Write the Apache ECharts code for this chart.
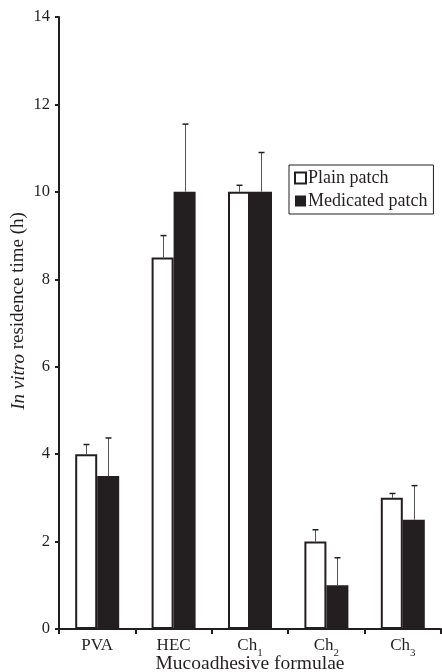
<!DOCTYPE html>
<html>
<head>
<meta charset="utf-8">
<script src="https://cdn.jsdelivr.net/npm/echarts@6/dist/echarts.min.js"></script>
<style>html,body{margin:0;padding:0;background:#fff}#c{width:442px;height:672px}</style>
</head>
<body>
<div id="c"></div>
<script>
var categories = ['PVA', 'HEC', 'Ch1', 'Ch2', 'Ch3'];
var plainMean = [4, 8.5, 10, 2, 3];
var plainErr = [0.22, 0.5, 0.15, 0.27, 0.1];
var medMean = [3.5, 10, 10, 1, 2.5];
var medErr = [0.87, 1.55, 0.9, 0.63, 0.78];
var yTicks = [0, 2, 4, 6, 8, 10, 12, 14];

var INK = '#231f20';
var FONT = 'Liberation Serif';
var BAR_W = 22;

function errSeries(name, means, errs, offset) {
  return {
    type: 'custom',
    name: name + ' err',
    z: 5,
    silent: true,
    data: means.map(function (m, i) { return [i, m, m + errs[i]]; }),
    renderItem: function (params, api) {
      var i = api.value(0);
      var base = api.coord([i, api.value(1)]);
      var top = api.coord([i, api.value(2)]);
      var x = Math.round(base[0] + offset) + 0.5;
      var cw = 3;
      return {
        type: 'group',
        children: [
          { type: 'line', shape: { x1: x, y1: base[1], x2: x, y2: top[1] }, style: { stroke: '#555', lineWidth: 1 } },
          { type: 'line', shape: { x1: x - cw, y1: top[1], x2: x + cw, y2: top[1] }, style: { stroke: INK, lineWidth: 1.5 } }
        ]
      };
    }
  };
}

var chart = echarts.init(document.getElementById('c'), null, { renderer: 'canvas' });
chart.setOption({
  animation: false,
  backgroundColor: '#fff',
  textStyle: { fontFamily: FONT, color: INK },
  grid: { left: 59, right: 1, top: 17, bottom: 43, containLabel: false, outerBoundsMode: 'none' },
  legend: {
    orient: 'vertical',
    left: 289,
    top: 165,
    padding: [4, 6, 4, 5],
    itemGap: 5,
    itemWidth: 11,
    itemHeight: 11,
    borderColor: INK,
    borderWidth: 1,
    textStyle: { fontFamily: FONT, fontSize: 18, color: INK, padding: [0, 0, 0, -3] },
    data: [
      { name: 'Plain patch', icon: 'rect', itemStyle: { color: '#fff', borderColor: INK, borderWidth: 2 } },
      { name: 'Medicated patch', icon: 'rect', itemStyle: { color: INK, borderWidth: 0 } }
    ]
  },
  xAxis: {
    type: 'category',
    data: categories,
    name: 'Mucoadhesive formulae',
    nameLocation: 'middle',
    nameMoveOverlap: false,
    nameGap: 25,
    nameTextStyle: { fontFamily: FONT, fontSize: 19.5, color: INK },
    axisLine: { lineStyle: { color: INK, width: 2 } },
    axisTick: { show: true, interval: 0, length: 5, lineStyle: { color: INK, width: 2 } },
    axisLabel: {
      interval: 0,
      margin: 7,
      color: INK,
      fontFamily: FONT,
      fontSize: 17,
      formatter: function (v) {
        var m = v.match(/^([A-Za-z]+)(\d)$/);
        if (m) return '{n|' + m[1] + '}{s|' + m[2] + '}';
        return '{n|' + v + '}';
      },
      rich: {
        n: { fontFamily: FONT, fontSize: 17, color: INK, lineHeight: 20 },
        s: { fontFamily: FONT, fontSize: 11, color: INK, lineHeight: 20, verticalAlign: 'bottom', padding: [0, 0, -3, 0] }
      }
    }
  },
  yAxis: {
    type: 'value',
    min: yTicks[0],
    max: yTicks[yTicks.length - 1],
    interval: 2,
    name: '{i|In vitro} residence time (h)',
    nameLocation: 'middle',
    nameMoveOverlap: false,
    nameGap: 31,
    nameTextStyle: {
      fontFamily: FONT, fontSize: 19, color: INK,
      padding: [0, 0, 0, 24],
      rich: {
        i: { fontFamily: FONT, fontSize: 19, fontStyle: 'italic', color: INK }
      }
    },
    splitLine: { show: false },
    axisLine: { show: true, lineStyle: { color: INK, width: 2 } },
    axisTick: { show: true, length: 4, lineStyle: { color: INK, width: 2 } },
    axisLabel: { margin: 9, color: INK, fontFamily: FONT, fontSize: 16.5 }
  },
  series: [
    {
      type: 'bar',
      name: 'Plain patch',
      data: plainMean,
      barWidth: BAR_W,
      barGap: '0%',
      itemStyle: { color: '#fff', borderColor: INK, borderWidth: 2 }
    },
    {
      type: 'bar',
      name: 'Medicated patch',
      data: medMean,
      barWidth: BAR_W,
      barGap: '0%',
      itemStyle: { color: INK }
    },
    errSeries('Plain patch', plainMean, plainErr, -BAR_W / 2),
    errSeries('Medicated patch', medMean, medErr, BAR_W / 2)
  ]
});
</script>
</body>
</html>
